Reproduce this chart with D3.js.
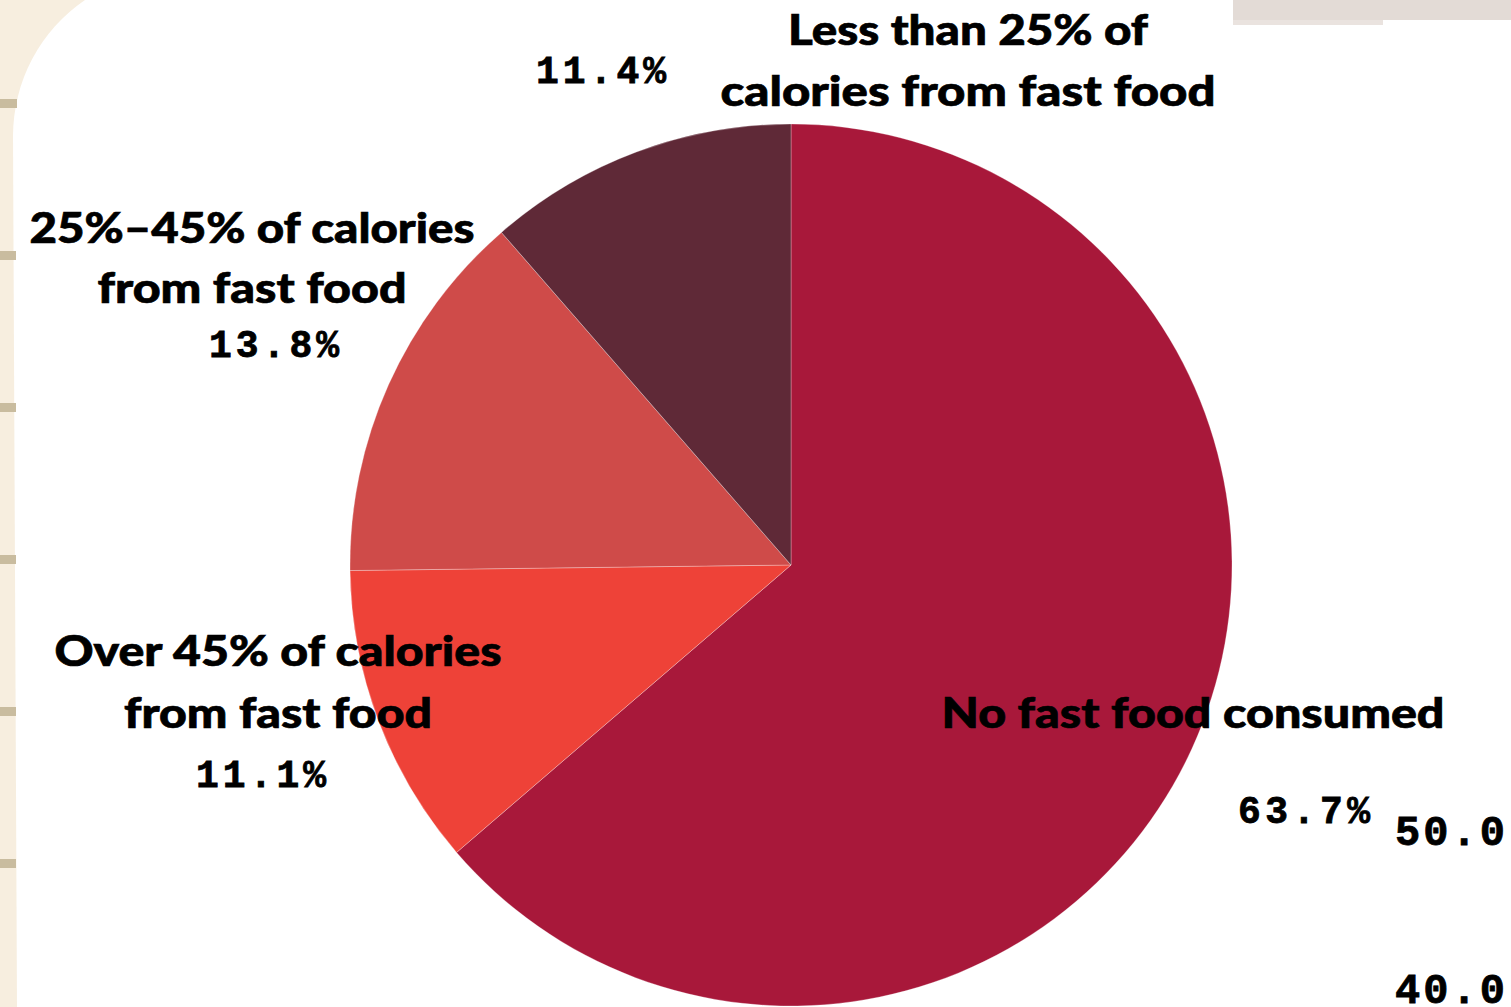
<!DOCTYPE html>
<html>
<head>
<meta charset="utf-8">
<script src="https://cdn.jsdelivr.net/npm/d3@7"></script>
<style>
  html, body { margin: 0; padding: 0; background: #ffffff; overflow: hidden; }
  svg { display: block; }
</style>
</head>
<body>
<script>
// ---- data ----
const categories = [
  "No fast food consumed",
  "Over 45% of calories from fast food",
  "25%\u201345% of calories from fast food",
  "Less than 25% of calories from fast food"
];
const values = [63.7, 11.1, 13.8, 11.4];
const colors = ["#A8183A", "#EE4238", "#CF4B49", "#5F2937"];
const labelLines = [
  ["No fast food consumed"],
  ["Over 45% of calories", "from fast food"],
  ["25%\u201345% of calories", "from fast food"],
  ["Less than 25% of", "calories from fast food"]
];
const tickLabels = [50.0, 40.0];

// ---- layout ----
const W = 1511, H = 1007;
const cx = 791, cy = 565, R = 441;

const svg = d3.select("body").append("svg")
  .attr("width", W).attr("height", H);

// paper background on the left + white panel
svg.append("rect").attr("width", W).attr("height", H).attr("fill", "#F7EEDF");
svg.append("path")
  .attr("d", "M85,0 A165,165 0 0 0 13,136 L17," + H + " L" + W + "," + H + " L" + W + ",0 Z")
  .attr("fill", "#ffffff");

// decorative notches on the left edge
const notchStart = 99, notchStep = 152;
for (let i = 0; i < 6; i++) {
  svg.append("rect")
    .attr("x", 0).attr("y", notchStart + i * notchStep)
    .attr("width", i === 0 ? 17 : 16).attr("height", 9)
    .attr("fill", "#C9BC9F");
}

// grey strip top-right
svg.append("rect").attr("x", 1233).attr("y", 0).attr("width", W - 1233).attr("height", 20).attr("fill", "#E3DBD6");
svg.append("rect").attr("x", 1233).attr("y", 20).attr("width", 150).attr("height", 5).attr("fill", "#EAE3DF");

// ---- pie ----
const pie = d3.pie().sort(null).value(d => d)(values);
const arc = d3.arc().innerRadius(0).outerRadius(R);

const g = svg.append("g").attr("transform", `translate(${cx},${cy})`);
g.selectAll("path.slice")
  .data(pie)
  .join("path")
  .attr("class", "slice")
  .attr("d", arc)
  .attr("fill", (d, i) => colors[i])
  .attr("stroke", "rgba(255,255,255,0.35)")
  .attr("stroke-width", 0.8);

// ---- labels ----
const labelFont = "Lato, 'Open Sans', sans-serif";
const monoFont = "'Liberation Mono', 'DejaVu Sans Mono', monospace";

// text placement (centre x, baselines, visible widths) per category
const labelLayout = [
  { x: 1193, ys: [728], ws: [503], px: 1304, py: 823, pw: 132 },
  { x: 278, ys: [666, 728], ws: [447, 308], px: 261, py: 787, pw: 130 },
  { x: 252, ys: [243, 303], ws: [445, 309], px: 274, py: 357, pw: 130 },
  { x: 968, ys: [45, 106], ws: [360, 495], px: 601, py: 83, pw: 130 }
];

const fmt = d3.format(".1f");
labelLines.forEach((lines, i) => {
  const L = labelLayout[i];
  lines.forEach((t, j) => {
    svg.append("text")
      .attr("x", L.x).attr("y", L.ys[j])
      .attr("text-anchor", "middle")
      .attr("font-family", labelFont)
      .attr("font-weight", 900)
      .attr("font-size", 42)
      .attr("textLength", L.ws[j])
      .attr("lengthAdjust", "spacingAndGlyphs")
      .attr("fill", "#000")
      .attr("stroke", "#000")
      .attr("stroke-width", 0.7)
      .text(t);
  });
  svg.append("text")
    .attr("x", L.px).attr("y", L.py)
    .attr("text-anchor", "middle")
    .attr("font-family", monoFont)
    .attr("font-weight", 700)
    .attr("font-size", 38)
    .attr("textLength", L.pw)
    .attr("lengthAdjust", "spacing")
    .attr("fill", "#000")
    .attr("stroke", "#000")
    .attr("stroke-width", 0.8)
    .text(fmt(values[i]) + "%");
});

// leftover axis tick labels at the right edge
const yTick = d3.scaleLinear().domain([40, 50]).range([1003, 845]);
svg.selectAll("text.tick")
  .data(tickLabels)
  .join("text")
  .attr("class", "tick")
  .attr("x", 1395)
  .attr("y", d => yTick(d))
  .attr("font-family", monoFont)
  .attr("font-weight", 700)
  .attr("font-size", 42)
  .attr("textLength", 110)
  .attr("lengthAdjust", "spacing")
  .attr("fill", "#000")
  .attr("stroke", "#000")
  .attr("stroke-width", 0.8)
  .text(d => d3.format(".1f")(d));
</script>
</body>
</html>
